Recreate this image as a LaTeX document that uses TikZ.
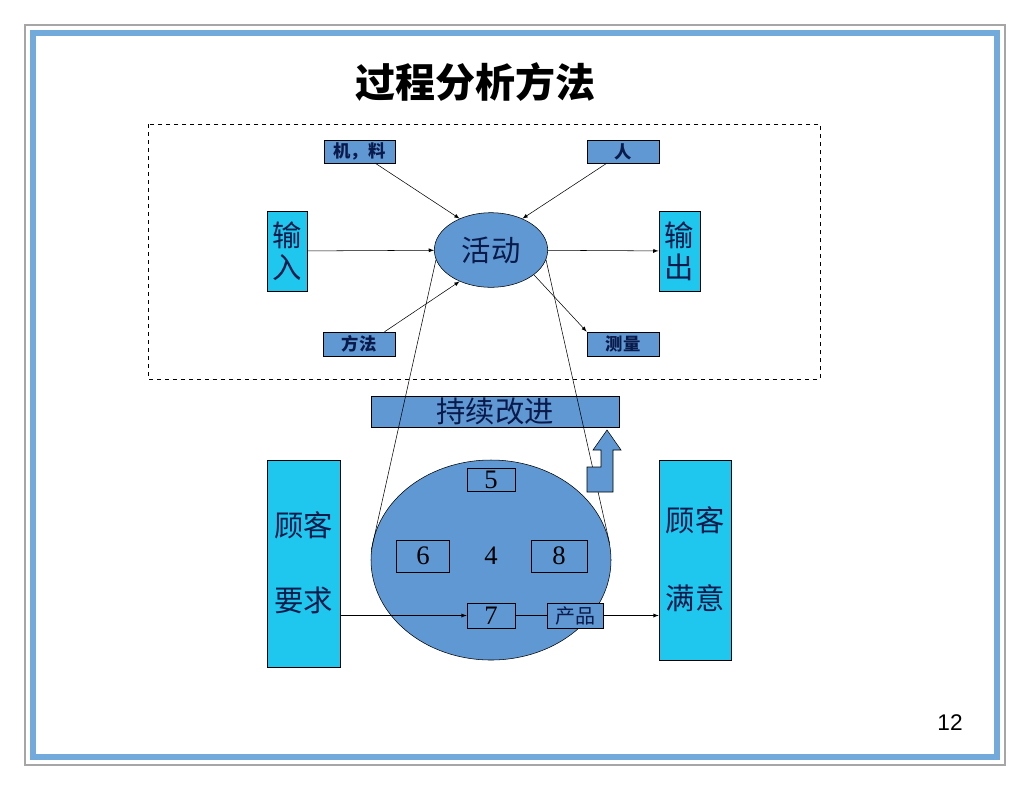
\documentclass[tikz,border=0pt]{standalone}
\usepackage{fontspec}
\setmainfont{Liberation Serif}
\newfontfamily\cjk{Noto Sans CJK SC}
\newfontfamily\pgnum{Liberation Sans}
\usetikzlibrary{shapes.geometric}
\definecolor{boxblue}{HTML}{5F98D2}
\definecolor{boxcyan}{HTML}{1FC6EE}
\definecolor{framblue}{HTML}{72AADB}
\definecolor{navy}{HTML}{0A1A4A}
\tikzset{
  small/.style={draw,fill=boxblue,inner sep=0pt,font=\cjk\bfseries\fontsize{13}{13}\selectfont,text=navy},
  side/.style={draw,fill=boxcyan,inner sep=0pt},
  num/.style={draw,fill=boxblue,inner sep=0pt,font=\fontsize{20}{20}\selectfont},
  big/.style={font=\cjk\fontsize{22}{22}\selectfont,text=navy},
  >=latex
}
\begin{document}
\begin{tikzpicture}[x=0.75pt,y=-0.75pt]
\useasboundingbox (0,0) rectangle (1030,790);
% frame
\draw[gray!70,line width=1pt] (25,25) rectangle (1005,765);
\draw[framblue,line width=4pt] (33,33) rectangle (997,757);
\node[font=\cjk\bfseries\fontsize{30}{30}\selectfont] (title) at (475,82) {过程分析方法};
\draw[dashed] (148,124) rectangle (820,379);
% upper part
\node[small,minimum width=53pt,minimum height=17pt] (jl) at (359.5,151.5) {机，料};
\node[small,minimum width=54pt,minimum height=17pt] (ren) at (623,151.5) {人};
\node[small,minimum width=54pt,minimum height=18pt] (ff) at (359,344) {方法};
\node[small,minimum width=54pt,minimum height=18pt] (cl) at (623,344) {测量};
\node[side,minimum width=30pt,minimum height=60pt,big,align=center] (in) at (287,251) {输\\[2pt]入};
\node[side,minimum width=31pt,minimum height=60pt,big,align=center] (out) at (679.5,251) {输\\[2pt]出};
\node[ellipse,draw,fill=boxblue,minimum width=85pt,minimum height=56pt,big] (act) at (491,250) {活动};
\draw[->] (in) -- (act);
\draw[->] (act) -- (out);
\draw[->] (jl.south east) ++(-15pt,0) -- (act.135);
\draw[->] (ren.south) ++(-12pt,0) -- (act.45);
\draw[->] (ff.north east) ++(-8pt,0) -- (act.225);
\draw[->] (act.-30) -- (cl.north west);
% lower part
\node[draw,fill=boxblue,minimum width=186pt,minimum height=23pt,inner sep=0pt,big] (cg) at (495,411.5) {持续改进};
\node[ellipse,draw,fill=boxblue,minimum width=180pt,minimum height=150pt,inner sep=0pt] (proc) at (491,560) {};
\draw (act.190) -- (proc.175);
\draw (act.-10) -- (proc.8);
\node[num,minimum width=36pt,minimum height=17pt] (n5) at (491,479.5) {5};
\node[num,minimum width=40pt,minimum height=24pt] (n6) at (423,556) {6};
\node[font=\fontsize{20}{20}\selectfont] (n4) at (491,556) {4};
\node[num,minimum width=42pt,minimum height=24pt] (n8) at (559,556) {8};
\node[num,minimum width=36pt,minimum height=19pt] (n7) at (491,615.5) {7};
\node[small,minimum width=42pt,minimum height=19pt,font=\cjk\fontsize{15}{15}\selectfont] (cp) at (575,615.5) {产品};
\node[side,minimum width=55pt,minimum height=155pt] (req) at (303.5,563.5) {};
\node[big] at (303.5,525) {顾客};
\node[big] at (303.5,600) {要求};
\node[side,minimum width=54pt,minimum height=150pt] (sat) at (695,560) {};
\node[big] at (695,520) {顾客};
\node[big] at (695,598) {满意};
\draw[->] (req.east |- n7) -- (n7);
\draw (n7) -- (cp);
\draw[->] (cp) -- (sat.west |- cp);
% up arrow
\draw[fill=boxblue] (587,492) -- (587,467) -- (601,467) -- (601,450) -- (593,450)
  -- (607,430) -- (621,450) -- (613,450) -- (613,492) -- cycle;
\node[font=\pgnum\fontsize{17}{17}\selectfont] (pg) at (950,723) {12};
\end{tikzpicture}
\end{document}
